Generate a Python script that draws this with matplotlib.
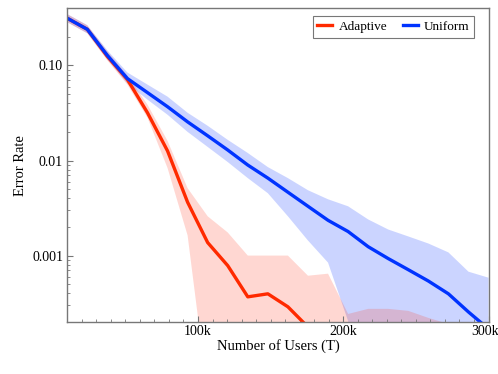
import numpy as np
import matplotlib
matplotlib.use("Agg")
import matplotlib.pyplot as plt
import matplotlib.transforms as mtransforms
from matplotlib.ticker import FixedLocator, LogLocator, NullFormatter, FixedFormatter

plt.rcParams['font.family'] = ['Liberation Serif', 'DejaVu Serif']

# Number of users (T)
users = [10000, 23810, 37619, 51429, 65238, 79048, 92857, 106667, 120476, 134286,
         148095, 161905, 175714, 189524, 203333, 217143, 230952, 244762, 258571,
         272381, 286190, 300000]

uniform_mean = [0.314, 0.240, 0.1276, 0.0728, 0.0518, 0.0368, 0.0255, 0.0182, 0.0129,
                0.00896, 0.00653, 0.00464, 0.00330, 0.00235, 0.00179, 0.00124,
                0.00093, 0.00071, 0.00054, 0.000396, 0.000255, 0.000169]
uniform_upper = [0.347, 0.265, 0.144, 0.0843, 0.0629, 0.0470, 0.0318, 0.0232, 0.0165,
                 0.0120, 0.00853, 0.00653, 0.00487, 0.00391, 0.00330, 0.00240,
                 0.00188, 0.00159, 0.00134, 0.00108, 0.000677, 0.000585]
uniform_lower = [0.285, 0.218, 0.1157, 0.0645, 0.0437, 0.0303, 0.0200, 0.0139, 0.00964,
                 0.00653, 0.00453, 0.00259, 0.00144, 0.000843, 0.000205, 1e-5,
                 1e-5, 1e-5, 1e-5, 1e-5, 1e-5, 1e-5]

adaptive_mean = [0.314, 0.240, 0.1245, 0.0711, 0.0318, 0.01261, 0.00364, 0.00137,
                 0.000784, 0.000368, 0.000396, 0.000289, 0.000177]
adaptive_upper = [0.347, 0.265, 0.1406, 0.0784, 0.0387, 0.0161, 0.00512, 0.00259,
                  0.00175, 0.0010, 0.0010, 0.0010, 0.000614, 0.000645, 0.000243,
                  0.000275, 0.000275, 0.000262, 0.000221, 0.000191, 0.000161, 0.00014]
adaptive_lower = [0.285, 0.218, 0.113, 0.0629, 0.0282, 0.00834, 0.00163, 3.5e-5,
                  1e-5, 1e-5, 1e-5, 1e-5, 1e-5, 1e-5, 1e-5, 1e-5, 1e-5, 1e-5, 1e-5,
                  1e-5, 1e-5, 1e-5]

xticks = [100000, 200000, 300000]
xticklabels = ["100k", "200k", "300k"]
yticks = [0.001, 0.01, 0.1]
yticklabels = ["0.001", "0.01", "0.10"]

red = '#ff2a00'
blue = '#0033ff'

fig = plt.figure(figsize=(4.98, 3.74), dpi=100)
ax = fig.add_axes([0.135, 0.139, 0.846, 0.839])

ax.fill_between(users[:len(uniform_upper)], uniform_lower, uniform_upper,
                color='#3355ff', alpha=0.25, linewidth=0)
ax.fill_between(users[:len(adaptive_upper)], adaptive_lower, adaptive_upper,
                color='#ff3a22', alpha=0.2, linewidth=0)
ax.plot(users[:len(adaptive_mean)], adaptive_mean, color=red, lw=2.4, label='Adaptive')
ax.plot(users[:len(uniform_mean)], uniform_mean, color=blue, lw=2.4, label='Uniform')

ax.set_yscale('log')
ax.set_xlim(10000, 300000)
ax.set_ylim(0.0002, 0.4)

ax.xaxis.set_major_locator(FixedLocator(xticks))
ax.xaxis.set_major_formatter(FixedFormatter(xticklabels))
ax.xaxis.set_minor_locator(FixedLocator(np.arange(20000, 300000, 10000)))
ax.yaxis.set_major_locator(FixedLocator(yticks))
ax.yaxis.set_major_formatter(FixedFormatter(yticklabels))
ax.yaxis.set_minor_locator(LogLocator(base=10, subs=np.arange(2, 10)))
ax.yaxis.set_minor_formatter(NullFormatter())

frame_col = '#777777'
for s in ax.spines.values():
    s.set_color(frame_col)
    s.set_linewidth(1.0)
ax.tick_params(which='both', direction='in', color=frame_col, top=False, right=False,
               labelsize=10, labelcolor='black')
ax.tick_params(which='major', length=4, width=0.8)
ax.tick_params(which='minor', length=2, width=0.6)
ax.tick_params(axis='x', pad=2)
ax.tick_params(axis='y', pad=3)

# nudge the last x tick label so it stays inside the figure
last = ax.get_xticklabels()[-1]
last.set_transform(last.get_transform() +
                   mtransforms.ScaledTranslation(-3 / 100, 0, fig.dpi_scale_trans))

ax.set_xlabel('Number of Users (T)', fontsize=10.5, labelpad=1)
ax.set_ylabel('Error Rate', fontsize=10.5, labelpad=4)

leg = ax.legend(loc='upper right', ncol=2, fontsize=9.5, frameon=True, fancybox=False,
                handlelength=1.15, columnspacing=1.2, handletextpad=0.45,
                borderpad=0.35, borderaxespad=0, bbox_to_anchor=(0.966, 0.975))
leg.get_frame().set_edgecolor('#555555')
leg.get_frame().set_linewidth(0.8)

fig.savefig('out.png', dpi=100)
